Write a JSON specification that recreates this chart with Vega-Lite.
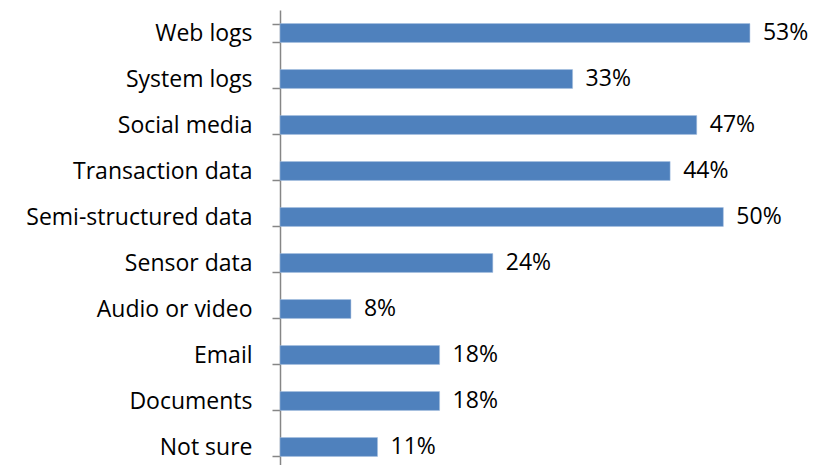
{
  "$schema": "https://vega.github.io/schema/vega-lite/v6.json",
  "autosize": {"type": "none"},
  "padding": {"left": 280, "top": 10, "right": 0, "bottom": 0},
  "width": 532,
  "height": 455,
  "background": "white",
  "config": {"view": {"stroke": null}},
  "data": {"values": [
    {"source": "Web logs", "share": 0.53},
    {"source": "System logs", "share": 0.33},
    {"source": "Social media", "share": 0.47},
    {"source": "Transaction data", "share": 0.44},
    {"source": "Semi-structured data", "share": 0.50},
    {"source": "Sensor data", "share": 0.24},
    {"source": "Audio or video", "share": 0.08},
    {"source": "Email", "share": 0.18},
    {"source": "Documents", "share": 0.18},
    {"source": "Not sure", "share": 0.11}
  ]},
  "encoding": {
    "y": {
      "field": "source", "type": "nominal", "sort": null,
      "scale": {"range": [0, 460], "paddingInner": 0.59, "paddingOuter": 0.295},
      "axis": {
        "title": null, "tickBand": "extent", "tickSize": 8, "tickColor": "#868686", "tickWidth": 1.5,
        "domainColor": "#868686", "domainWidth": 1.5, "labelPadding": 20,
        "labelFont": "Open Sans", "labelFontSize": 23, "labelColor": "black", "labelLimit": 300
      }
    },
    "x": {
      "field": "share", "type": "quantitative",
      "scale": {"domain": [0, 0.6], "nice": false},
      "axis": null
    }
  },
  "layer": [
    {"mark": {"type": "bar", "color": "#4F81BD", "stroke": "#a9c1e0", "strokeWidth": 0.5}},
    {"mark": {"type": "text", "align": "left", "dx": 13, "font": "Open Sans", "fontSize": 23, "color": "black"},
     "encoding": {"text": {"field": "share", "type": "quantitative", "format": ".0%"}}}
  ]
}
